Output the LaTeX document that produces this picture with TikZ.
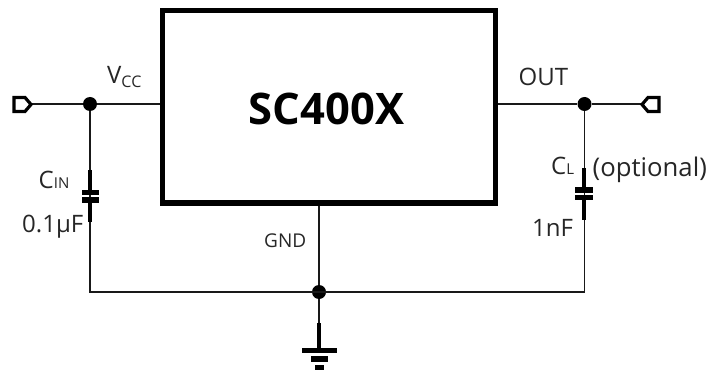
\documentclass[tikz,border=0pt]{standalone}
\usepackage{fontspec}
\setmainfont{Open Sans}
\tikzset{
  wire/.style={line width=1.7pt,draw=black!90},
  heavy/.style={line width=3.2pt,draw=black},
  plate/.style={line width=5.5pt,draw=black},
  chip/.style={draw=black,line width=5pt,minimum width=333pt,minimum height=192pt,inner sep=0pt},
  title/.style={inner sep=0pt,font=\fontsize{43.5}{44}\selectfont\bfseries},
  dot/.style={circle,fill=black,minimum size=14pt,inner sep=0pt},
  pinmark/.style={draw=black,line width=3.2pt,line join=miter,fill=white},
  lab/.style={inner sep=0pt,text=black!85,font=\fontsize{24}{24}\selectfont},
}
\newcommand{\subt}[1]{\raisebox{-4pt}{\fontsize{16}{16}\selectfont #1}}
\newcommand{\subn}[1]{{\fontsize{15}{15}\selectfont #1}}
\begin{document}
\begin{tikzpicture}[x=1pt,y=-1pt]
\useasboundingbox (0,0) rectangle (708,371);
\node[chip] (box) at (328.5,107) {};
\node[title,anchor=base] (name) at (326.5,125) {SC400X};
\node[dot] (dl) at (90,104) {};
\node[dot] (dr) at (584.5,104) {};
\node[dot] (dg) at (319,292) {};
\coordinate (pl) at (31,104);
\coordinate (pr) at (642,104);
\coordinate (bl) at (box.west |- dl);
\coordinate (br) at (box.east |- dr);
\coordinate (bg) at (dg |- box.south);
\coordinate (cornl) at (dl |- dg);
\coordinate (cornr) at (dr |- dg);
% wires
\draw[wire] (pl) -- (dl) -- (bl);
\draw[wire] (br) -- (dr) -- (pr);
\draw[wire] (dl) -- (cornl) -- (cornr) -- (dr);
\draw[wire] (bg) -- (dg) -- (319,323);
% pins
\draw[pinmark] (14,97.5) -- (25,97.5) -- (31,104.5) -- (25,111.5) -- (14,111.5) -- cycle;
\draw[pinmark] (659,97.5) -- (648,97.5) -- (642,104.5) -- (648,111.5) -- (659,111.5) -- cycle;
% input cap
\draw[heavy] (90,170) -- (90,192);
\draw[heavy] (90,200) -- (90,222);
\draw[plate] (82,192.5) -- (99,192.5);
\draw[plate] (82,200) -- (99,200);
% output cap
\draw[heavy] (584,168) -- (584,190);
\draw[heavy] (584,197) -- (584,220);
\draw[plate] (575,190) -- (593,190);
\draw[plate] (575,197.5) -- (593,197.5);
% ground
\draw[heavy] (319,323) -- (319,349);
\draw[plate] (302,350.5) -- (337,350.5);
\draw[plate] (311,359) -- (328,359);
\draw[plate] (315,367.5) -- (324,367.5);
% labels
\node[lab,anchor=base west] (vcc) at (107,83.5) {V\subt{CC}};
\node[lab,anchor=base west] (cin) at (38.5,189) {C\subn{IN}};
\node[lab,anchor=base west] (cv) at (22,232) {0.1μF};
\node[lab,anchor=base west] (out) at (518.5,85.5) {OUT};
\node[lab,anchor=base west] (cl) at (551,174.5) {C\subn{L}};
\node[lab,anchor=base west,font=\fontsize{25.7}{26}\selectfont] (opt) at (592.5,176.5) {(optional)};
\node[lab,anchor=base west] (onef) at (532,236) {1nF};
\node[lab,anchor=base west,font=\fontsize{19}{19}\selectfont] (gnd) at (264,247) {GND};
\end{tikzpicture}
\end{document}
